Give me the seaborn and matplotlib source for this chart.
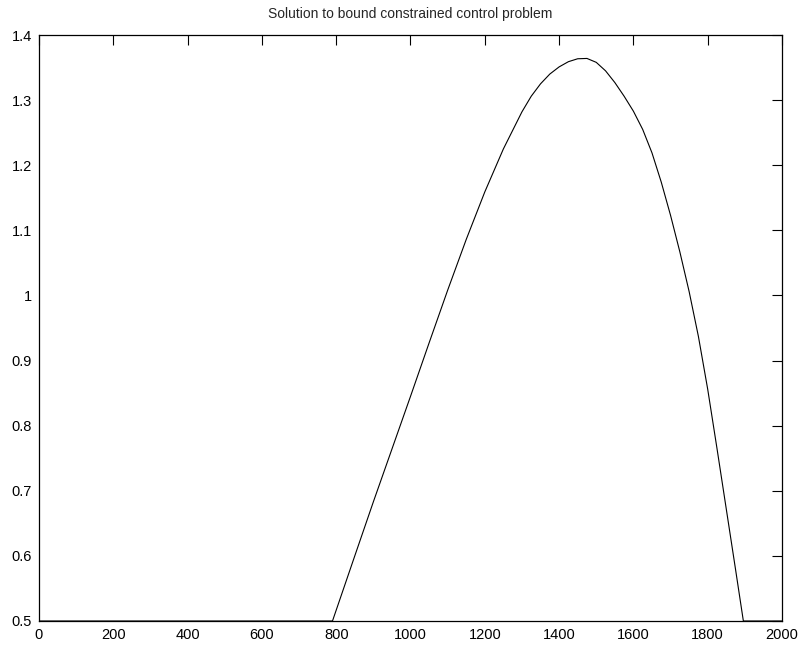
import matplotlib
matplotlib.use("Agg")
import matplotlib.pyplot as plt
import seaborn as sns
import pandas as pd

# Values
t = [0, 790, 850, 900, 950, 1000, 1050, 1100, 1150, 1200, 1250, 1300, 1325,
     1350, 1375, 1400, 1425, 1450, 1475, 1500, 1525, 1550, 1575, 1600, 1625,
     1650, 1675, 1700, 1725, 1750, 1775, 1800, 1825, 1850, 1875, 1896, 2000]
u = [0.5, 0.5, 0.600, 0.683, 0.764, 0.845, 0.927, 1.008, 1.086, 1.159, 1.225,
     1.282, 1.306, 1.325, 1.340, 1.351, 1.359, 1.3635, 1.364, 1.358, 1.345,
     1.327, 1.306, 1.283, 1.255, 1.219, 1.174, 1.123, 1.067, 1.006, 0.937,
     0.856, 0.765, 0.672, 0.579, 0.5, 0.5]

x_ticks = list(range(0, 2001, 200))
y_ticks = [0.5, 0.6, 0.7, 0.8, 0.9, 1.0, 1.1, 1.2, 1.3, 1.4]

df = pd.DataFrame({"t": t, "u": u})

sns.set_style("white")
plt.rcParams['font.family'] = ['Liberation Sans', 'DejaVu Sans']

fig = plt.figure(figsize=(8.03, 6.46), dpi=100)
ax = fig.add_axes([39 / 803, 25 / 646, 743 / 803, 586 / 646])

sns.lineplot(data=df, x="t", y="u", ax=ax, color="black", linewidth=0.8,
             estimator=None, sort=False)

ax.set_xlim(0, 2000)
ax.set_ylim(0.5, 1.4)
ax.set_xticks(x_ticks)
ax.set_yticks(y_ticks)
ax.set_xticklabels([f"{v:g}" for v in x_ticks])
ax.set_yticklabels([f"{v:g}" for v in y_ticks])
ax.tick_params(direction="in", length=7, width=0.8, top=True, right=True,
               labelsize=10.5, pad=5, colors="black")
for s in ax.spines.values():
    s.set_visible(True)
    s.set_color("black")
    s.set_linewidth(0.9)

ax.set_xlabel("")
ax.set_ylabel("")
ax.set_title("Solution to bound constrained control problem", fontsize=10, pad=12)

fig.savefig("out.png", dpi=100)
